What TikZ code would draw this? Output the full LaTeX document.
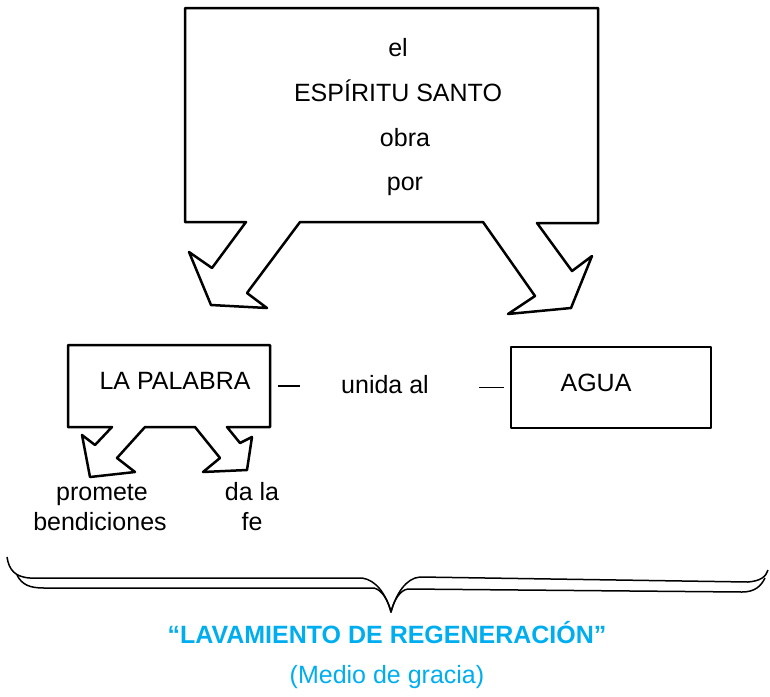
\documentclass[tikz,border=0pt]{standalone}
\usepackage{fontspec}
\setmainfont{Liberation Sans}
\usetikzlibrary{positioning}
\definecolor{celeste}{RGB}{0,174,239}

\begin{document}
\begin{tikzpicture}[x=1pt,y=-1pt,line join=round,
  txt/.style={font=\fontsize{25}{30}\selectfont,anchor=base,inner sep=0pt},
  titulo/.style={txt,text=celeste}]
  \useasboundingbox (0,0) rectangle (770,696);
  % caja de arriba con sus dos flechas
  \draw[line width=2.5pt] (185,8) -- (598,8) -- (598,223) -- (537,223) -- (572,271) -- (592,256) -- (571,308) -- (508,314) -- (535,296) -- (483,222) -- (300,222) -- (247,293) -- (267,308) -- (211,305) -- (189,252) -- (212,268) -- (246,222) -- (185,222) -- cycle;
  \node[txt] (el) at (398,56) {el};
  \node[txt] (espiritu) at (398,101) {ESPÍRITU SANTO};
  \node[txt] (obra) at (405,146) {obra};
  \node[txt] (por) at (405,190) {por};
  % la palabra con sus dos flechas
  \draw[line width=2.5pt] (68,345) -- (270,345) -- (270,427) -- (227,427) -- (240,443) -- (252,437) -- (247,470) -- (203,472) -- (220,458) -- (195,427) -- (145,427) -- (117,458) -- (135,472) -- (90,477) -- (82,435) -- (95,445) -- (112,427) -- (68,427) -- cycle;
  \coordinate (pal) at (270,386);
  \node[txt] (palabra) at (175,389) {LA PALABRA};
  \node[draw,line width=2.5pt,minimum width=200pt,minimum height=81pt] (aguacaja) at (611,387.5) {};
  \node[txt] (agua) at (596,391) {AGUA};
  \node[txt] (unida) at (385,393) {unida al};
  \draw[line width=1.8pt] ([xshift=8pt]pal) -- ([xshift=30pt]pal);
  \draw[line width=1.8pt] ([xshift=-31pt]aguacaja.west) -- ([xshift=-6pt]aguacaja.west);
  \node[txt] (promete) at (102,500) {promete};
  \node[txt] (bendiciones) at (100,530) {bendiciones};
  \node[txt] (dala) at (252,500) {da la};
  \node[txt] (fe) at (252,530) {fe};
  % llave
  \draw[line width=1.5pt] (7,557) .. controls (9,570) and (15,577) .. (30,578) -- (362,578) .. controls (376,580) and (386,594) .. (391,612) .. controls (396,594) and (406,578) .. (420,577) -- (748,582) .. controls (760,581) and (766,577) .. (768,570);
  \draw[line width=1.5pt] (17,575) .. controls (22,585) and (30,588) .. (44,588) -- (374,588) .. controls (382,590) and (388,600) .. (391,612) .. controls (394,600) and (400,590) .. (408,589) -- (742,592) .. controls (755,592) and (761,586) .. (765,578);
  \node[titulo,font=\fontsize{25}{30}\selectfont\bfseries] (lavamiento) at (387,643) {“LAVAMIENTO DE REGENERACIÓN”};
  \node[titulo] (medio) at (387,683) {(Medio de gracia)};
\end{tikzpicture}
\end{document}
